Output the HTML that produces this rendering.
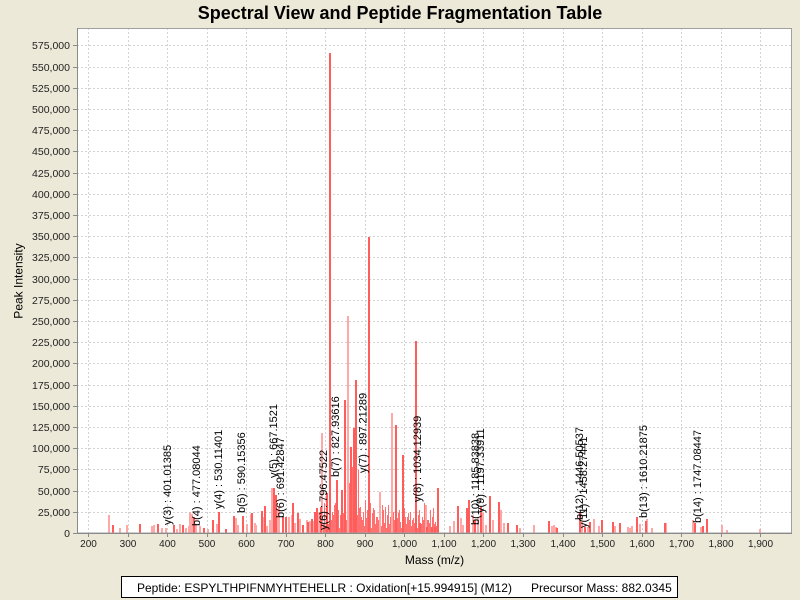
<!DOCTYPE html>
<html><head><meta charset="utf-8"><style>
html,body{margin:0;padding:0;background:#ece9d8;}
svg{display:block;font-family:"Liberation Sans",Arial,sans-serif;}
</style></head><body>
<svg width="800" height="600" viewBox="0 0 800 600" xmlns="http://www.w3.org/2000/svg">
<rect x="0" y="0" width="800" height="600" fill="#ece9d8"/>
<text x="400" y="19" font-size="18" font-weight="bold" text-anchor="middle" fill="#000">Spectral View and Peptide Fragmentation Table</text>
<rect x="77" y="28" width="715" height="505" fill="#fff"/>
<g stroke="#d2d2d2" stroke-width="1" stroke-dasharray="2,2" fill="none">
<path d="M88.5 28V533M128.5 28V533M167.5 28V533M207.5 28V533M246.5 28V533M286.5 28V533M325.5 28V533M365.5 28V533M404.5 28V533M444.5 28V533M483.5 28V533M523.5 28V533M563.5 28V533M602.5 28V533M642.5 28V533M681.5 28V533M721.5 28V533M760.5 28V533"/>
<path d="M77 512.5H792M77 491.5H792M77 469.5H792M77 448.5H792M77 427.5H792M77 406.5H792M77 385.5H792M77 363.5H792M77 342.5H792M77 321.5H792M77 300.5H792M77 279.5H792M77 257.5H792M77 236.5H792M77 215.5H792M77 194.5H792M77 173.5H792M77 151.5H792M77 130.5H792M77 109.5H792M77 88.5H792M77 67.5H792M77 45.5H792"/>
</g>
<!-- filler peaks -->
<path stroke="#ff7070" stroke-width="1" fill="none" d="M318.5 520V533M319.5 512V533M320.5 526V533M321.5 507V533M322.5 518V533M323.5 523V533M324.5 503V533M325.5 528V533M326.5 495V533M327.5 508V533M328.5 524V533M329.5 517V533M331.5 520V533M332.5 512V533M333.5 515V533M334.5 505V533M335.5 503V533M336.5 523V533M338.5 510V533M339.5 528V533M340.5 515V533M341.5 495V533M343.5 513V533M344.5 517V533M346.5 520V533M347.5 512V533M349.5 483V533M350.5 505V533M352.5 467V533M353.5 523V533M355.5 510V533M357.5 515V533M358.5 470V533M359.5 508V533M360.5 507V533M361.5 517V533M362.5 520V533M363.5 512V533M364.5 526V533M365.5 500V533M366.5 518V533M367.5 510V533M368.5 523V533M370.5 503V533M371.5 528V533M372.5 513V533M373.5 508V533M374.5 510V533M375.5 524V533M376.5 517V533M377.5 517V533M378.5 520V533M379.5 512V533M381.5 526V533M382.5 505V533M383.5 510V533M384.5 523V533M385.5 507V533M386.5 528V533M387.5 515V533M388.5 505V533M389.5 524V533M390.5 517V533M391.5 520V533M393.5 512V533M394.5 520V533M395.5 505V533M397.5 518V533M398.5 513V533M399.5 510V533M400.5 522V533M401.5 528V533M402.5 515V533M404.5 508V533M405.5 517V533M406.5 524V533M407.5 517V533M408.5 513V533M409.5 520V533M410.5 512V533M411.5 526V533M412.5 520V533M413.5 518V533M414.5 523V533M415.5 510V533M417.5 528V533M418.5 515V533M419.5 510V533M420.5 523V533M421.5 524V533M422.5 517V533M423.5 520V533M424.5 503V533M425.5 526V533M426.5 505V533M427.5 520V533M428.5 520V533M429.5 523V533M430.5 510V533M431.5 528V533M432.5 517V533M433.5 508V533M434.5 524V533M435.5 522V533M436.5 526V533M437.5 525V533"/>
<!-- light peaks -->
<path stroke="#ffa8a8" stroke-width="2" fill="none" d="M348 316V533M392 413V533M322 433V533M380 492V533M272 488V533M109 515V533M120 528V533M127 525V533M152 526V533M154 525V533M162 528V533M166 528V533M177 529V533M180 524V533M186 528V533M189 526V533M190 512V533M192 514V533M196 524V533M200 526V533M208 529V533M217 524V533M236 518V533M238 525V533M247 524V533M251 514V533M255 523V533M256 525V533M263 517V533M267 526V533M270 520V533M273 516V533M278 509V533M279 506V533M289 517V533M292 515V533M295 523V533M300 519V533M307 520V533M310 521V533M313 521V533M319 513V533M450 526V533M454 521V533M461 518V533M463 525V533M473 515V533M478 517V533M483 513V533M486 525V533M493 520V533M501 510V533M504 523V533M520 528V533M534 525V533M552 526V533M554 525V533M556 527V533M582 522V533M588 527V533M594 519V533M599 526V533M615 526V533M628 527V533M630 528V533M632 526V533M640 524V533M647 519V533M652 528V533M666 523V533M693 520V533M701 527V533M722 525V533M727 530V533M760 529V533M426 505V533"/>
<!-- bright peaks -->
<path stroke="#ff5c5c" stroke-width="2" fill="none" d="M330 53V533M369 237V533M416 341V533M356 380V533M345 400V533M396 425V533M354 428V533M351 447V533M403 455V533M337 480V533M342 490V533M327 493V533M438 488V533M274 488V533M276 495V533M219 512V533M140 524V533M113 525V533M265 506V533M293 503V533M317 508V533M321 507V533M315 512V533M252 513V533M262 511V533M243 516V533M234 516V533M194 517V533M283 517V533M298 513V533M308 522V533M213 520V533M174 525V533M183 525V533M204 528V533M158 524V533M226 529V533M286 517V533M303 525V533M312 519V533M458 506V533M467 508V533M469 500V533M475 520V533M481 507V533M490 496V533M499 502V533M508 523V533M517 525V533M549 521V533M557 528V533M580 512V533M585 527V533M590 522V533M602 520V533M613 522V533M620 523V533M637 517V533M646 521V533M665 523V533M695 523V533M703 526V533M707 519V533M420 523V533M427 527V533M432 527V533M435 527V533"/>
<!-- plot outline -->
<rect x="77.5" y="28.5" width="714" height="504.5" fill="none" stroke="#a0a0a0" stroke-width="1"/>
<path d="M77.5 28V533.5H792" fill="none" stroke="#8a8a8a" stroke-width="1"/>
<!-- ticks -->
<path stroke="#8a8a8a" stroke-width="1" d="M73 533.5H77M73 512.5H77M73 491.5H77M73 469.5H77M73 448.5H77M73 427.5H77M73 406.5H77M73 385.5H77M73 363.5H77M73 342.5H77M73 321.5H77M73 300.5H77M73 279.5H77M73 257.5H77M73 236.5H77M73 215.5H77M73 194.5H77M73 173.5H77M73 151.5H77M73 130.5H77M73 109.5H77M73 88.5H77M73 67.5H77M73 45.5H77M88.5 533V537M128.5 533V537M167.5 533V537M207.5 533V537M246.5 533V537M286.5 533V537M325.5 533V537M365.5 533V537M404.5 533V537M444.5 533V537M483.5 533V537M523.5 533V537M563.5 533V537M602.5 533V537M642.5 533V537M681.5 533V537M721.5 533V537M760.5 533V537"/>
<g font-size="10.5" text-anchor="end" fill="#222">
<text x="70" y="537">0</text><text x="70" y="516">25,000</text><text x="70" y="495">50,000</text><text x="70" y="473">75,000</text><text x="70" y="452">100,000</text><text x="70" y="431">125,000</text><text x="70" y="410">150,000</text><text x="70" y="389">175,000</text><text x="70" y="367">200,000</text><text x="70" y="346">225,000</text><text x="70" y="325">250,000</text><text x="70" y="304">275,000</text><text x="70" y="283">300,000</text><text x="70" y="261">325,000</text><text x="70" y="240">350,000</text><text x="70" y="219">375,000</text><text x="70" y="198">400,000</text><text x="70" y="177">425,000</text><text x="70" y="155">450,000</text><text x="70" y="134">475,000</text><text x="70" y="113">500,000</text><text x="70" y="92">525,000</text><text x="70" y="71">550,000</text><text x="70" y="49">575,000</text>
</g>
<g font-size="10" text-anchor="middle" fill="#222">
<text x="88.5" y="547">200</text><text x="128" y="547">300</text><text x="167.5" y="547">400</text><text x="207" y="547">500</text><text x="246.5" y="547">600</text><text x="286" y="547">700</text><text x="325.5" y="547">800</text><text x="365" y="547">900</text><text x="404.5" y="547">1,000</text><text x="444" y="547">1,100</text><text x="483.5" y="547">1,200</text><text x="523" y="547">1,300</text><text x="563" y="547">1,400</text><text x="602.5" y="547">1,500</text><text x="642" y="547">1,600</text><text x="681.5" y="547">1,700</text><text x="721" y="547">1,800</text><text x="760.5" y="547">1,900</text>
</g>
<text x="434.5" y="564" font-size="12" text-anchor="middle" fill="#000">Mass (m/z)</text>
<text transform="translate(22.5,281) rotate(-90)" font-size="12" text-anchor="middle" fill="#000">Peak Intensity</text>
<!-- peak annotations -->
<g font-size="11" fill="#000">
<text transform="translate(171,525) rotate(-90)">y(3) : 401.01385</text>
<text transform="translate(200,526) rotate(-90)">b(4) : 477.08044</text>
<text transform="translate(222,509) rotate(-90)">y(4) : 530.11401</text>
<text transform="translate(245,513) rotate(-90)">b(5) : 590.15356</text>
<text transform="translate(277,478) rotate(-90)">y(5) : 667.1521</text>
<text transform="translate(284,518) rotate(-90)">b(6) : 691.42847</text>
<text transform="translate(327,530) rotate(-90)">y(6) : 796.47522</text>
<text transform="translate(339,477) rotate(-90)">b(7) : 827.93616</text>
<text transform="translate(366.5,473) rotate(-90)">y(7) : 897.21289</text>
<text transform="translate(421,502) rotate(-90)">y(8) : 1034.12939</text>
<text transform="translate(479,525) rotate(-90)">b(10) : 1185.83838</text>
<text transform="translate(484,513) rotate(-90)">y(9) : 1197.33911</text>
<text transform="translate(583,520) rotate(-90)">b(12) : 1446.50537</text>
<text transform="translate(587,528) rotate(-90)">y(11) : 1458.27441</text>
<text transform="translate(647,518) rotate(-90)">b(13) : 1610.21875</text>
<text transform="translate(701,523) rotate(-90)">b(14) : 1747.08447</text>
</g>
<!-- legend -->
<rect x="121.5" y="576.5" width="556" height="21" fill="#fff" stroke="#000" stroke-width="1"/>
<text x="137" y="592" font-size="12" fill="#000">Peptide: ESPYLTHPIFNMYHTEHELLR : Oxidation[+15.994915] (M12)</text>
<text x="531" y="592" font-size="12" fill="#000">Precursor Mass: 882.0345</text>
</svg>
</body></html>
